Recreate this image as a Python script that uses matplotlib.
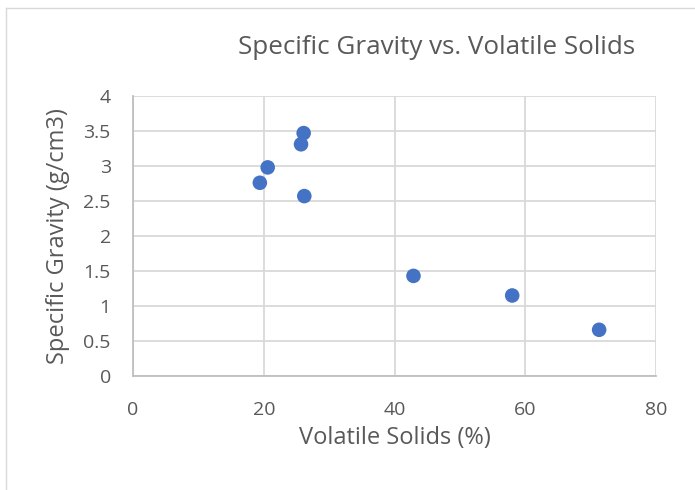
import matplotlib.pyplot as plt
from matplotlib.lines import Line2D

# 휘발성 고형물 vs 비중 데이터
volatile_solids  = [19.4, 20.6, 25.7, 26.1, 26.2, 42.9, 58.0, 71.3]
specific_gravity = [2.76, 2.98, 3.31, 3.47, 2.57, 1.43, 1.15, 0.66]

x_ticks = [0, 20, 40, 60, 80]
y_ticks = [0, 0.5, 1, 1.5, 2, 2.5, 3, 3.5, 4]
y_tick_labels = ["0", "0.5", "1", "1.5", "2", "2.5", "3", "3.5", "4"]

plt.rcParams['font.family'] = ['Open Sans', 'DejaVu Sans']
text_color = "#595959"

fig = plt.figure(figsize=(6.95, 4.9), dpi=100)
ax = fig.add_axes([0.1914, 0.2327, 0.7525, 0.5714])

ax.scatter(volatile_solids, specific_gravity, s=110, color="#4472C4",
           edgecolors="none", zorder=3)

ax.set_xlim(0, 80)
ax.set_ylim(0, 4)
ax.set_xticks(x_ticks)
ax.set_yticks(y_ticks)
ax.set_yticklabels(y_tick_labels)

# 격자선
ax.grid(color="#d9d9d9", linewidth=1.3, zorder=0)
for side in ["top", "right"]:
    ax.spines[side].set_visible(False)
for side in ["left", "bottom"]:
    ax.spines[side].set_color("#bfbfbf")
    ax.spines[side].set_linewidth(1.3)

ax.tick_params(length=0, labelsize=14, labelcolor=text_color)
ax.tick_params(axis="y", pad=16)
ax.tick_params(axis="x", pad=18)

ax.set_xlabel("Volatile Solids (%)", fontsize=17, color=text_color, labelpad=5)
ax.set_ylabel("Specific Gravity (g/cm3)", fontsize=17, color=text_color, labelpad=10)
fig.text(0.628, 0.904, "Specific Gravity vs. Volatile Solids", fontsize=18.7,
         color=text_color, ha="center", va="center")

# 차트 영역 테두리
fig.add_artist(Line2D([6/695, 6/695], [0, 1 - 8/490], color="#d9d9d9", lw=1))
fig.add_artist(Line2D([6/695, 1], [1 - 8/490, 1 - 8/490], color="#d9d9d9", lw=1))

plt.savefig("out.png", dpi=100)
